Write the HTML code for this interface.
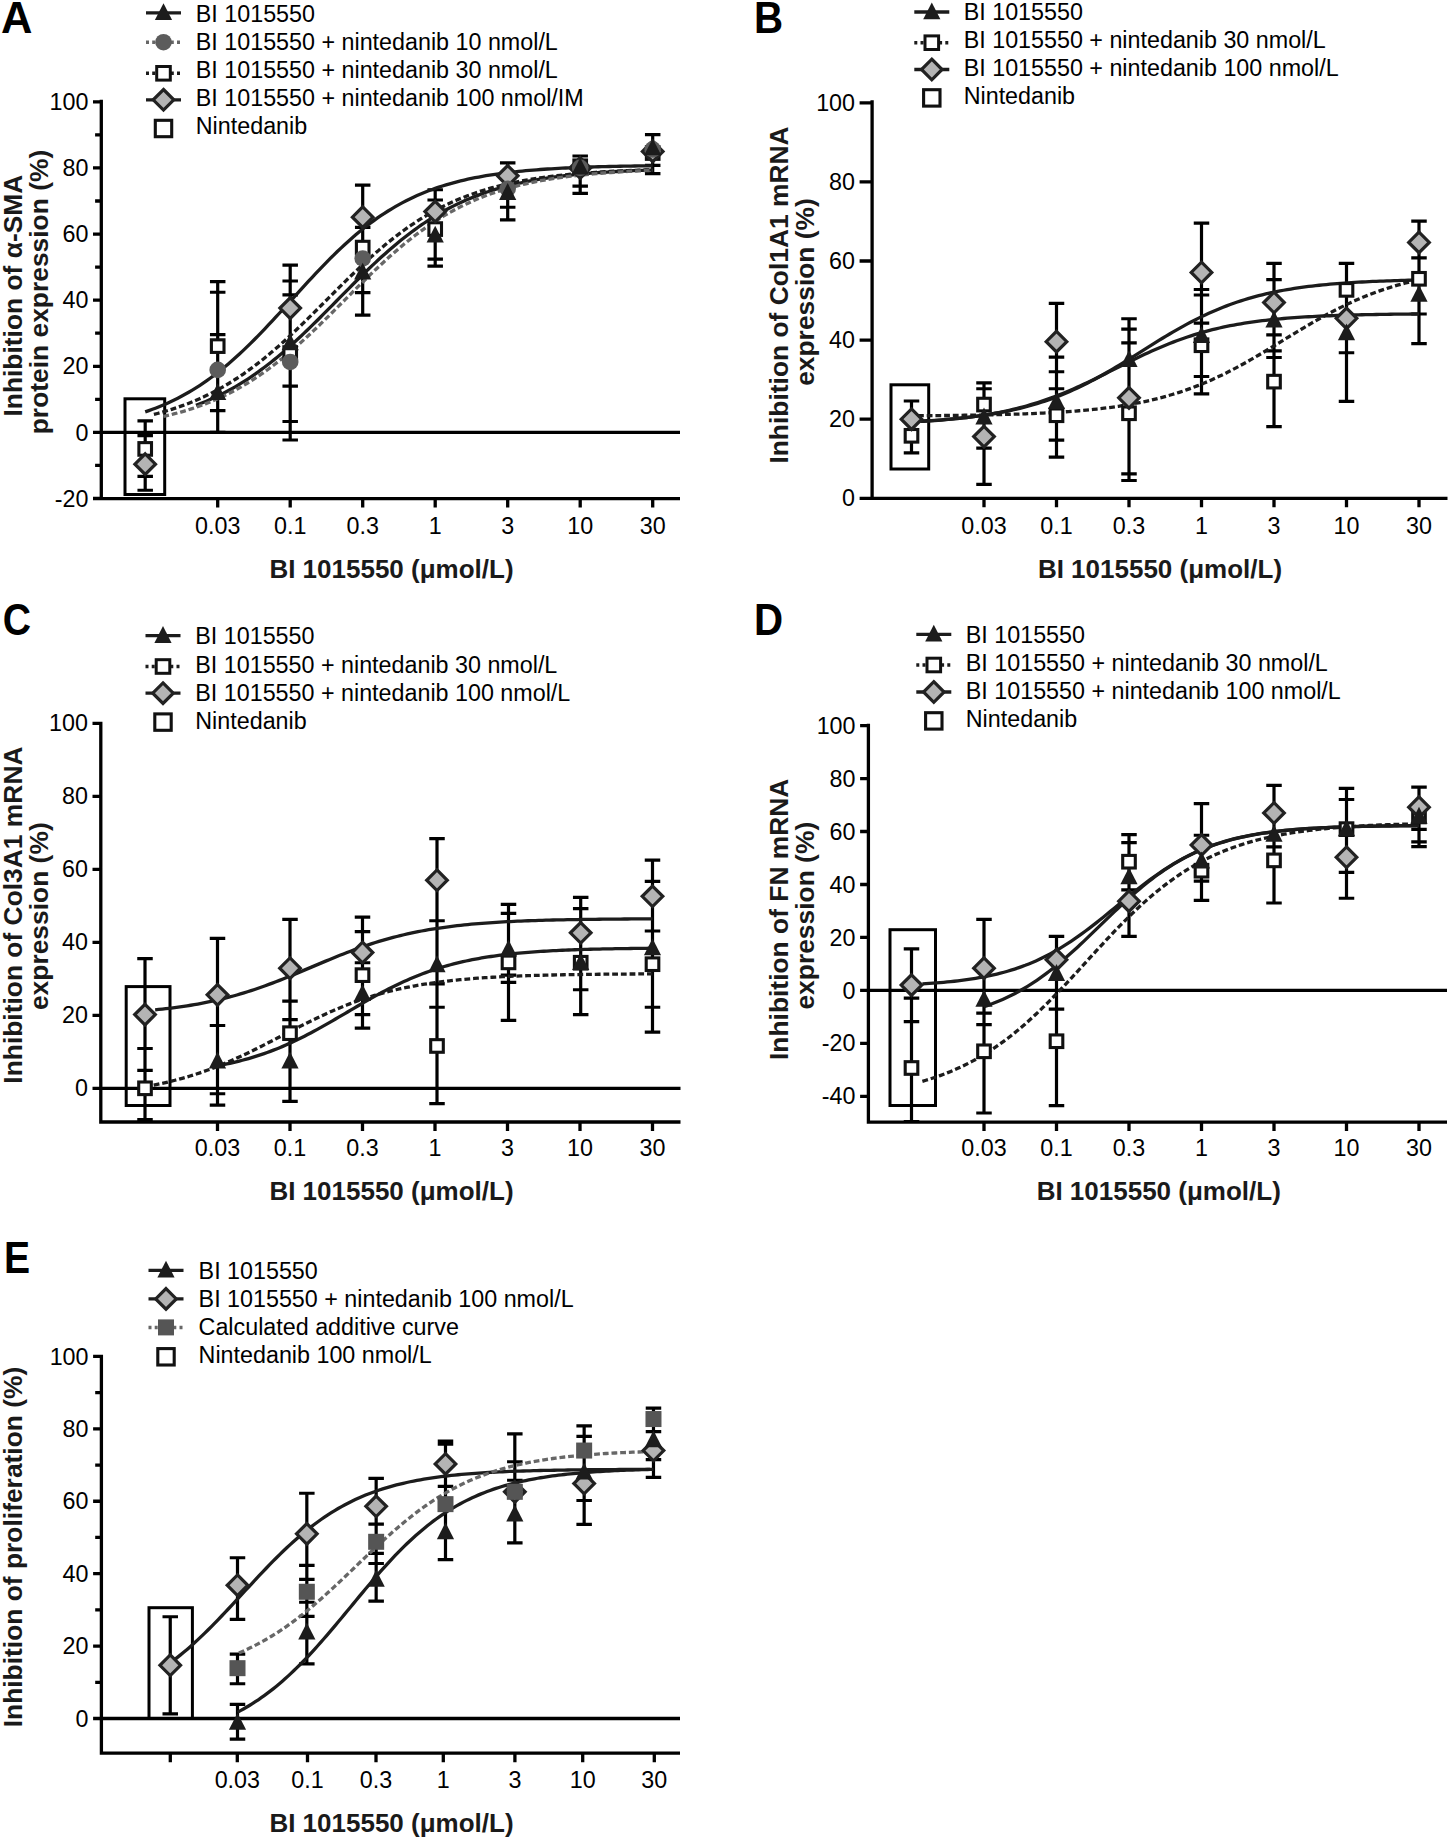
<!DOCTYPE html>
<html><head><meta charset="utf-8"><style>
html,body{margin:0;padding:0;background:#fff;}
body{width:1450px;height:1840px;overflow:hidden;}
svg{display:block;}
.t{font-family:"Liberation Sans", sans-serif;font-size:23.3px;fill:#000;}
.b{font-family:"Liberation Sans", sans-serif;font-size:26px;font-weight:bold;fill:#1a1a1a;}
.yl{font-size:26.4px;}
.L{font-family:"Liberation Sans", sans-serif;font-size:43.5px;font-weight:bold;fill:#000;}
</style></head><body>
<svg width="1450" height="1840" viewBox="0 0 1450 1840">
<path d="M101.3 99.85V500.25M99.65 498.6H680M93 101.8H101.3M93 167.92H101.3M93 234.04H101.3M93 300.16H101.3M93 366.28H101.3M93 432.4H101.3M93 498.52H101.3M95.1 134.86H101.3M95.1 200.98H101.3M95.1 267.1H101.3M95.1 333.22H101.3M95.1 399.34H101.3M95.1 465.46H101.3M217.7 498.6V507.6M290.2 498.6V507.6M362.7 498.6V507.6M435.2 498.6V507.6M507.7 498.6V507.6M580.2 498.6V507.6M652.7 498.6V507.6M101.3 432.4H680" stroke="#000" stroke-width="3.3" fill="none"/>
<text x="88.4" y="109.9" text-anchor="end" class="t">100</text>
<text x="88.4" y="176.02" text-anchor="end" class="t">80</text>
<text x="88.4" y="242.14" text-anchor="end" class="t">60</text>
<text x="88.4" y="308.26" text-anchor="end" class="t">40</text>
<text x="88.4" y="374.38" text-anchor="end" class="t">20</text>
<text x="88.4" y="440.5" text-anchor="end" class="t">0</text>
<text x="88.4" y="506.62" text-anchor="end" class="t">-20</text>
<text x="217.7" y="533.8" text-anchor="middle" class="t">0.03</text>
<text x="290.2" y="533.8" text-anchor="middle" class="t">0.1</text>
<text x="362.7" y="533.8" text-anchor="middle" class="t">0.3</text>
<text x="435.2" y="533.8" text-anchor="middle" class="t">1</text>
<text x="507.7" y="533.8" text-anchor="middle" class="t">3</text>
<text x="580.2" y="533.8" text-anchor="middle" class="t">10</text>
<text x="652.7" y="533.8" text-anchor="middle" class="t">30</text>
<rect x="125" y="398.8" width="39.7" height="95.7" fill="none" stroke="#000" stroke-width="3"/>
<path d="M145.2 420.83V490.25M137.45 420.83H152.95M137.45 435.71H152.95M137.45 476.37H152.95M137.45 490.25H152.95" stroke="#000" stroke-width="3.2" fill="none"/>
<path d="M217.7 281.65V432.4M209.95 281.65H225.45M209.95 292.23H225.45M209.95 334.54H225.45M209.95 410.58H225.45M209.95 432.4H225.45" stroke="#000" stroke-width="3.2" fill="none"/>
<path d="M290.2 265.12V440M282.45 265.12H297.95M282.45 280.99H297.95M282.45 294.87H297.95M282.45 386.12H297.95M282.45 421.49H297.95M282.45 440H297.95" stroke="#000" stroke-width="3.2" fill="none"/>
<path d="M362.7 185.11V315.04M354.95 185.11H370.45M354.95 227.43H370.45M354.95 292.56H370.45M354.95 315.04H370.45" stroke="#000" stroke-width="3.2" fill="none"/>
<path d="M435.2 189.74V266.11M427.45 189.74H442.95M427.45 199.99H442.95M427.45 259.17H442.95M427.45 266.11H442.95" stroke="#000" stroke-width="3.2" fill="none"/>
<path d="M507.7 162.96V219.82M499.95 162.96H515.45M499.95 207.26H515.45M499.95 219.82H515.45" stroke="#000" stroke-width="3.2" fill="none"/>
<path d="M580.2 156.02V193.38M572.45 156.02H587.95M572.45 186.1H587.95M572.45 193.38H587.95" stroke="#000" stroke-width="3.2" fill="none"/>
<path d="M652.7 134.53V173.54M644.95 134.53H660.45M644.95 165.28H660.45M644.95 173.54H660.45" stroke="#000" stroke-width="3.2" fill="none"/>
<polyline points="145.2,411.88 148.82,410.63 152.45,409.32 156.07,407.95 159.7,406.5 163.32,404.99 166.95,403.4 170.57,401.74 174.2,400.01 177.82,398.19 181.45,396.3 185.07,394.32 188.7,392.26 192.32,390.11 195.95,387.87 199.57,385.55 203.2,383.13 206.82,380.62 210.45,378.03 214.07,375.34 217.7,372.56 221.32,369.69 224.95,366.73 228.57,363.68 232.2,360.54 235.82,357.32 239.45,354.01 243.07,350.62 246.7,347.16 250.32,343.62 253.95,340.02 257.57,336.35 261.2,332.61 264.82,328.83 268.45,324.99 272.07,321.12 275.7,317.2 279.32,313.25 282.95,309.29 286.57,305.3 290.2,301.3 293.82,297.3 297.45,293.31 301.07,289.32 304.7,285.36 308.32,281.42 311.95,277.51 315.57,273.64 319.2,269.81 322.82,266.03 326.45,262.31 330.07,258.65 333.7,255.05 337.32,251.53 340.95,248.07 344.57,244.7 348.2,241.41 351.82,238.2 355.45,235.08 359.07,232.04 362.7,229.09 366.32,226.24 369.95,223.47 373.57,220.8 377.2,218.21 380.82,215.72 384.45,213.32 388.07,211.01 391.7,208.79 395.32,206.65 398.95,204.6 402.57,202.64 406.2,200.76 409.82,198.95 413.45,197.23 417.07,195.58 420.7,194.01 424.32,192.51 427.95,191.07 431.57,189.71 435.2,188.41 438.82,187.17 442.45,185.99 446.08,184.87 449.7,183.8 453.32,182.79 456.95,181.83 460.57,180.92 464.2,180.05 467.82,179.23 471.45,178.45 475.07,177.71 478.7,177.01 482.32,176.35 485.95,175.72 489.57,175.12 493.2,174.56 496.82,174.03 500.45,173.52 504.07,173.05 507.7,172.6 511.32,172.17 514.95,171.77 518.58,171.39 522.2,171.03 525.83,170.69 529.45,170.37 533.08,170.06 536.7,169.78 540.33,169.51 543.95,169.25 547.58,169.01 551.2,168.78 554.83,168.57 558.45,168.37 562.08,168.17 565.7,167.99 569.33,167.82 572.95,167.66 576.58,167.51 580.2,167.37 583.83,167.23 587.45,167.11 591.08,166.99 594.7,166.87 598.33,166.77 601.95,166.67 605.58,166.57 609.2,166.48 612.83,166.4 616.45,166.32 620.08,166.24 623.7,166.17 627.33,166.1 630.95,166.04 634.58,165.98 638.2,165.93 641.83,165.87 645.45,165.82 649.08,165.78 652.7,165.73" fill="none" stroke="#1c1c1c" stroke-width="3.3"/>
<polyline points="195.95,405.31 199.21,404.06 202.47,402.77 205.74,401.43 209,400.03 212.26,398.58 215.52,397.08 218.79,395.51 222.05,393.9 225.31,392.22 228.57,390.48 231.84,388.69 235.1,386.83 238.36,384.91 241.62,382.92 244.89,380.88 248.15,378.77 251.41,376.59 254.67,374.36 257.94,372.06 261.2,369.69 264.46,367.26 267.72,364.77 270.99,362.22 274.25,359.61 277.51,356.94 280.77,354.21 284.04,351.42 287.3,348.58 290.56,345.69 293.82,342.74 297.09,339.75 300.35,336.72 303.61,333.64 306.88,330.52 310.14,327.36 313.4,324.18 316.66,320.96 319.92,317.72 323.19,314.45 326.45,311.17 329.71,307.88 332.97,304.57 336.24,301.26 339.5,297.95 342.76,294.64 346.02,291.34 349.29,288.05 352.55,284.78 355.81,281.52 359.07,278.29 362.34,275.08 365.6,271.9 368.86,268.76 372.12,265.65 375.39,262.59 378.65,259.57 381.91,256.59 385.17,253.66 388.44,250.79 391.7,247.96 394.96,245.19 398.22,242.48 401.49,239.83 404.75,237.24 408.01,234.71 411.27,232.24 414.54,229.83 417.8,227.49 421.06,225.21 424.32,222.99 427.59,220.84 430.85,218.75 434.11,216.73 437.38,214.77 440.64,212.87 443.9,211.03 447.16,209.25 450.42,207.54 453.69,205.88 456.95,204.28 460.21,202.74 463.48,201.25 466.74,199.82 470,198.44 473.26,197.11 476.52,195.84 479.79,194.61 483.05,193.43 486.31,192.3 489.57,191.22 492.84,190.17 496.1,189.17 499.36,188.21 502.62,187.3 505.89,186.42 509.15,185.57 512.41,184.77 515.67,183.99 518.94,183.25 522.2,182.54 525.46,181.87 528.72,181.22 531.99,180.6 535.25,180.01 538.51,179.45 541.77,178.91 545.04,178.39 548.3,177.9 551.56,177.43 554.83,176.98 558.09,176.55 561.35,176.14 564.61,175.75 567.88,175.38 571.14,175.03 574.4,174.69 577.66,174.37 580.92,174.06 584.19,173.77 587.45,173.49 590.71,173.22 593.98,172.97 597.24,172.72 600.5,172.49 603.76,172.27 607.02,172.06 610.29,171.86 613.55,171.67 616.81,171.49 620.08,171.32 623.34,171.16 626.6,171 629.86,170.85 633.12,170.71 636.39,170.58 639.65,170.45 642.91,170.32 646.17,170.21 649.44,170.1 652.7,169.99" fill="none" stroke="#1c1c1c" stroke-width="3.3"/>
<polyline points="153.9,414.42 157.46,413.49 161.03,412.52 164.59,411.5 168.15,410.44 171.71,409.32 175.28,408.16 178.84,406.94 182.4,405.67 185.97,404.35 189.53,402.96 193.09,401.52 196.65,400.01 200.22,398.44 203.78,396.81 207.34,395.11 210.91,393.35 214.47,391.51 218.03,389.61 221.59,387.64 225.16,385.59 228.72,383.47 232.28,381.28 235.85,379.01 239.41,376.67 242.97,374.26 246.53,371.77 250.1,369.2 253.66,366.57 257.22,363.86 260.79,361.08 264.35,358.23 267.91,355.31 271.47,352.32 275.04,349.27 278.6,346.16 282.16,342.99 285.73,339.76 289.29,336.48 292.85,333.15 296.41,329.78 299.98,326.37 303.54,322.91 307.1,319.43 310.67,315.92 314.23,312.39 317.79,308.83 321.35,305.27 324.92,301.7 328.48,298.12 332.04,294.55 335.61,290.99 339.17,287.44 342.73,283.91 346.29,280.4 349.86,276.92 353.42,273.48 356.98,270.07 360.55,266.7 364.11,263.38 367.67,260.1 371.23,256.88 374.8,253.72 378.36,250.62 381.92,247.58 385.49,244.6 389.05,241.69 392.61,238.85 396.17,236.08 399.74,233.38 403.3,230.75 406.86,228.2 410.43,225.72 413.99,223.32 417.55,220.99 421.11,218.73 424.68,216.55 428.24,214.44 431.8,212.4 435.37,210.44 438.93,208.55 442.49,206.72 446.05,204.97 449.62,203.28 453.18,201.65 456.74,200.1 460.31,198.6 463.87,197.16 467.43,195.79 470.99,194.47 474.56,193.2 478.12,191.99 481.68,190.84 485.25,189.73 488.81,188.67 492.37,187.66 495.93,186.7 499.5,185.78 503.06,184.9 506.62,184.06 510.19,183.26 513.75,182.5 517.31,181.77 520.87,181.08 524.44,180.42 528,179.79 531.56,179.19 535.13,178.62 538.69,178.08 542.25,177.56 545.81,177.07 549.38,176.61 552.94,176.17 556.5,175.74 560.07,175.34 563.63,174.96 567.19,174.6 570.75,174.26 574.32,173.93 577.88,173.62 581.44,173.33 585.01,173.05 588.57,172.79 592.13,172.53 595.69,172.3 599.26,172.07 602.82,171.85 606.38,171.65 609.95,171.46 613.51,171.27 617.07,171.1 620.63,170.93 624.2,170.78 627.76,170.63 631.32,170.49 634.89,170.35 638.45,170.23 642.01,170.11 645.57,169.99 649.14,169.88 652.7,169.78" fill="none" stroke="#1c1c1c" stroke-width="3.3" stroke-dasharray="5.8 2.9"/>
<polyline points="163.32,416.51 166.82,415.7 170.32,414.85 173.81,413.96 177.31,413.03 180.8,412.05 184.3,411.04 187.79,409.97 191.29,408.86 194.78,407.69 198.28,406.48 201.78,405.21 205.27,403.89 208.77,402.52 212.26,401.08 215.76,399.59 219.25,398.03 222.75,396.41 226.24,394.73 229.74,392.99 233.24,391.18 236.73,389.3 240.23,387.35 243.72,385.33 247.22,383.24 250.71,381.09 254.21,378.86 257.7,376.56 261.2,374.18 264.7,371.74 268.19,369.23 271.69,366.64 275.18,363.99 278.68,361.26 282.17,358.47 285.67,355.61 289.16,352.69 292.66,349.71 296.16,346.66 299.65,343.56 303.15,340.4 306.64,337.2 310.14,333.94 313.63,330.64 317.13,327.3 320.62,323.93 324.12,320.52 327.62,317.08 331.11,313.62 334.61,310.14 338.1,306.65 341.6,303.15 345.09,299.64 348.59,296.14 352.08,292.64 355.58,289.15 359.07,285.67 362.57,282.22 366.07,278.79 369.56,275.39 373.06,272.02 376.55,268.69 380.05,265.41 383.54,262.17 387.04,258.97 390.53,255.83 394.03,252.75 397.53,249.72 401.02,246.76 404.52,243.85 408.01,241.02 411.51,238.24 415,235.54 418.5,232.91 421.99,230.34 425.49,227.85 428.99,225.43 432.48,223.07 435.98,220.8 439.47,218.59 442.97,216.45 446.46,214.38 449.96,212.39 453.45,210.46 456.95,208.6 460.45,206.81 463.94,205.08 467.44,203.42 470.93,201.82 474.43,200.28 477.92,198.81 481.42,197.39 484.91,196.03 488.41,194.72 491.91,193.47 495.4,192.28 498.9,191.13 502.39,190.03 505.89,188.98 509.38,187.97 512.88,187.01 516.37,186.09 519.87,185.22 523.37,184.38 526.86,183.58 530.36,182.82 533.85,182.09 537.35,181.39 540.84,180.73 544.34,180.1 547.83,179.5 551.33,178.92 554.83,178.38 558.32,177.86 561.82,177.36 565.31,176.89 568.81,176.44 572.3,176.02 575.8,175.61 579.29,175.22 582.79,174.86 586.28,174.51 589.78,174.18 593.28,173.86 596.77,173.56 600.27,173.27 603.76,173 607.26,172.75 610.75,172.5 614.25,172.27 617.74,172.05 621.24,171.84 624.74,171.64 628.23,171.45 631.73,171.27 635.22,171.1 638.72,170.93 642.21,170.78 645.71,170.63 649.2,170.5 652.7,170.36" fill="none" stroke="#676767" stroke-width="3.3" stroke-dasharray="5.8 2.9"/>
<rect x="138.9" y="442.63" width="12.6" height="12.6" fill="#fff" stroke="#111" stroke-width="3.1"/>
<path d="M145.2 453.84L155.5 464.14L145.2 474.44L134.9 464.14Z" fill="#b4b4b4" stroke="#222" stroke-width="3.2"/>
<rect x="211.4" y="339.81" width="12.6" height="12.6" fill="#fff" stroke="#111" stroke-width="3.1"/>
<circle cx="217.7" cy="369.92" r="8.3" fill="#5c5c5c"/>
<path d="M217.7 383.13L226.3 399.93L209.1 399.93Z" fill="#1c1c1c"/>
<rect x="283.9" y="346.76" width="12.6" height="12.6" fill="#fff" stroke="#111" stroke-width="3.1"/>
<path d="M290.2 297.79L300.5 308.09L290.2 318.39L279.9 308.09Z" fill="#b4b4b4" stroke="#222" stroke-width="3.2"/>
<circle cx="290.2" cy="361.98" r="8.3" fill="#5c5c5c"/>
<path d="M290.2 333.54L298.8 350.34L281.6 350.34Z" fill="#1c1c1c"/>
<rect x="356.4" y="241.29" width="12.6" height="12.6" fill="#fff" stroke="#111" stroke-width="3.1"/>
<path d="M362.7 206.88L373 217.18L362.7 227.48L352.4 217.18Z" fill="#b4b4b4" stroke="#222" stroke-width="3.2"/>
<circle cx="362.7" cy="258.5" r="8.3" fill="#5c5c5c"/>
<path d="M362.7 262.79L371.3 279.59L354.1 279.59Z" fill="#1c1c1c"/>
<rect x="428.9" y="222.78" width="12.6" height="12.6" fill="#fff" stroke="#111" stroke-width="3.1"/>
<path d="M435.2 201.26L445.5 211.56L435.2 221.86L424.9 211.56Z" fill="#b4b4b4" stroke="#222" stroke-width="3.2"/>
<path d="M435.2 225.76L443.8 242.56L426.6 242.56Z" fill="#1c1c1c"/>
<path d="M507.7 165.55L518 175.85L507.7 186.15L497.4 175.85Z" fill="#b4b4b4" stroke="#222" stroke-width="3.2"/>
<circle cx="507.7" cy="188.75" r="8.3" fill="#5c5c5c"/>
<path d="M507.7 183.11L516.3 199.91L499.1 199.91Z" fill="#1c1c1c"/>
<rect x="573.9" y="159.97" width="12.6" height="12.6" fill="#fff" stroke="#111" stroke-width="3.1"/>
<path d="M580.2 157.62L590.5 167.92L580.2 178.22L569.9 167.92Z" fill="#b4b4b4" stroke="#222" stroke-width="3.2"/>
<circle cx="580.2" cy="167.92" r="8.3" fill="#5c5c5c"/>
<path d="M580.2 157.66L588.8 174.46L571.6 174.46Z" fill="#1c1c1c"/>
<rect x="646.4" y="146.74" width="12.6" height="12.6" fill="#fff" stroke="#111" stroke-width="3.1"/>
<path d="M652.7 141.09L663 151.39L652.7 161.69L642.4 151.39Z" fill="#b4b4b4" stroke="#222" stroke-width="3.2"/>
<circle cx="652.7" cy="149.41" r="8.3" fill="#5c5c5c"/>
<path d="M652.7 138.48L661.3 155.28L644.1 155.28Z" fill="#1c1c1c"/>
<path d="M146 12.8H181" stroke="#1c1c1c" stroke-width="3.3"/>
<path d="M163.5 3.2L172.1 20L154.9 20Z" fill="#1c1c1c"/>
<text x="195.8" y="22.3" class="t">BI 1015550</text>
<path d="M146 42.2H181" stroke="#676767" stroke-width="3.5" stroke-dasharray="3 3.2"/>
<circle cx="163.5" cy="42.2" r="8.3" fill="#5c5c5c"/>
<text x="195.8" y="50.3" class="t">BI 1015550 + nintedanib 10 nmol/L</text>
<path d="M146 73.3H181" stroke="#1c1c1c" stroke-width="3.5" stroke-dasharray="3 3.2"/>
<rect x="156.7" y="66.5" width="13.6" height="13.6" fill="#fff" stroke="#111" stroke-width="3"/>
<text x="195.8" y="78.2" class="t">BI 1015550 + nintedanib 30 nmol/L</text>
<path d="M146 99.8H181" stroke="#1c1c1c" stroke-width="3.3"/>
<path d="M163.5 89.5L173.8 99.8L163.5 110.1L153.2 99.8Z" fill="#b4b4b4" stroke="#222" stroke-width="3.2"/>
<text x="195.8" y="106" class="t">BI 1015550 + nintedanib 100 nmol/IM</text>
<rect x="155.3" y="120.3" width="16.4" height="16.4" fill="#fff" stroke="#111" stroke-width="3.1"/>
<text x="195.8" y="134.1" class="t">Nintedanib</text>
<text transform="translate(21.5 295.6) rotate(-90)" text-anchor="middle" class="b yl">Inhibition of α-SMA</text>
<text transform="translate(47.5 292) rotate(-90)" text-anchor="middle" class="b yl">protein expression (%)</text>
<text x="391.5" y="578" text-anchor="middle" class="b">BI 1015550 (μmol/L)</text>
<text transform="translate(1 32.5) scale(1.0 1)" class="L">A</text>
<path d="M872.1 100.35V499.95M870.45 498.3H1447.5M859.6 102.8H872.1M859.6 181.9H872.1M859.6 261H872.1M859.6 340.1H872.1M859.6 419.2H872.1M859.6 498.3H872.1M984 498.3V507.3M1056.5 498.3V507.3M1129 498.3V507.3M1201.5 498.3V507.3M1274 498.3V507.3M1346.5 498.3V507.3M1419 498.3V507.3" stroke="#000" stroke-width="3.3" fill="none"/>
<text x="855" y="110.9" text-anchor="end" class="t">100</text>
<text x="855" y="190" text-anchor="end" class="t">80</text>
<text x="855" y="269.1" text-anchor="end" class="t">60</text>
<text x="855" y="348.2" text-anchor="end" class="t">40</text>
<text x="855" y="427.3" text-anchor="end" class="t">20</text>
<text x="855" y="506.4" text-anchor="end" class="t">0</text>
<text x="984" y="533.8" text-anchor="middle" class="t">0.03</text>
<text x="1056.5" y="533.8" text-anchor="middle" class="t">0.1</text>
<text x="1129" y="533.8" text-anchor="middle" class="t">0.3</text>
<text x="1201.5" y="533.8" text-anchor="middle" class="t">1</text>
<text x="1274" y="533.8" text-anchor="middle" class="t">3</text>
<text x="1346.5" y="533.8" text-anchor="middle" class="t">10</text>
<text x="1419" y="533.8" text-anchor="middle" class="t">30</text>
<rect x="891" y="384.8" width="37.7" height="84.2" fill="none" stroke="#000" stroke-width="3"/>
<path d="M911.5 401.01V452.82M903.75 401.01H919.25M903.75 452.82H919.25" stroke="#000" stroke-width="3.2" fill="none"/>
<path d="M984 382.81V484.46M976.25 382.81H991.75M976.25 388.75H991.75M976.25 448.07H991.75M976.25 484.46H991.75" stroke="#000" stroke-width="3.2" fill="none"/>
<path d="M1056.5 303.32V457.17M1048.75 303.32H1064.25M1048.75 357.11H1064.25M1048.75 371.74H1064.25M1048.75 388.75H1064.25M1048.75 440.16H1064.25M1048.75 457.17H1064.25" stroke="#000" stroke-width="3.2" fill="none"/>
<path d="M1129 318.74V480.5M1121.25 318.74H1136.75M1121.25 329.03H1136.75M1121.25 342.87H1136.75M1121.25 473.78H1136.75M1121.25 480.5H1136.75" stroke="#000" stroke-width="3.2" fill="none"/>
<path d="M1201.5 223.03V393.89M1193.75 223.03H1209.25M1193.75 289.48H1209.25M1193.75 295.01H1209.25M1193.75 323.09H1209.25M1193.75 376.49H1209.25M1193.75 393.89H1209.25" stroke="#000" stroke-width="3.2" fill="none"/>
<path d="M1274 263.37V426.71M1266.25 263.37H1281.75M1266.25 279.59H1281.75M1266.25 334.96H1281.75M1266.25 350.78H1281.75M1266.25 357.5H1281.75M1266.25 426.71H1281.75" stroke="#000" stroke-width="3.2" fill="none"/>
<path d="M1346.5 263.37V401.4M1338.75 263.37H1354.25M1338.75 352.76H1354.25M1338.75 401.4H1354.25" stroke="#000" stroke-width="3.2" fill="none"/>
<path d="M1419 221.05V343.66M1411.25 221.05H1426.75M1411.25 257.84H1426.75M1411.25 314H1426.75M1411.25 343.66H1426.75" stroke="#000" stroke-width="3.2" fill="none"/>
<polyline points="920.2,421.15 923.76,420.95 927.33,420.75 930.89,420.53 934.45,420.3 938.01,420.05 941.58,419.79 945.14,419.52 948.7,419.23 952.27,418.92 955.83,418.59 959.39,418.25 962.95,417.88 966.52,417.5 970.08,417.09 973.64,416.65 977.21,416.2 980.77,415.71 984.33,415.21 987.89,414.67 991.46,414.1 995.02,413.5 998.58,412.87 1002.15,412.21 1005.71,411.51 1009.27,410.77 1012.83,410 1016.4,409.19 1019.96,408.33 1023.52,407.44 1027.09,406.5 1030.65,405.52 1034.21,404.49 1037.77,403.41 1041.34,402.29 1044.9,401.11 1048.46,399.89 1052.03,398.61 1055.59,397.28 1059.15,395.9 1062.71,394.47 1066.28,392.98 1069.84,391.44 1073.4,389.85 1076.97,388.21 1080.53,386.51 1084.09,384.76 1087.65,382.96 1091.22,381.12 1094.78,379.22 1098.34,377.29 1101.91,375.31 1105.47,373.28 1109.03,371.23 1112.59,369.13 1116.16,367.01 1119.72,364.86 1123.28,362.68 1126.85,360.48 1130.41,358.27 1133.97,356.04 1137.53,353.81 1141.1,351.57 1144.66,349.33 1148.22,347.09 1151.79,344.86 1155.35,342.65 1158.91,340.45 1162.47,338.28 1166.04,336.12 1169.6,334 1173.16,331.91 1176.73,329.85 1180.29,327.83 1183.85,325.84 1187.41,323.91 1190.98,322.01 1194.54,320.17 1198.1,318.37 1201.67,316.62 1205.23,314.92 1208.79,313.28 1212.35,311.69 1215.92,310.15 1219.48,308.66 1223.04,307.23 1226.61,305.84 1230.17,304.52 1233.73,303.24 1237.29,302.01 1240.86,300.84 1244.42,299.71 1247.98,298.64 1251.55,297.61 1255.11,296.62 1258.67,295.69 1262.23,294.79 1265.8,293.94 1269.36,293.12 1272.92,292.35 1276.49,291.61 1280.05,290.92 1283.61,290.25 1287.17,289.62 1290.74,289.02 1294.3,288.45 1297.86,287.92 1301.43,287.41 1304.99,286.92 1308.55,286.47 1312.11,286.04 1315.68,285.63 1319.24,285.24 1322.8,284.87 1326.37,284.53 1329.93,284.2 1333.49,283.89 1337.05,283.6 1340.62,283.33 1344.18,283.07 1347.74,282.82 1351.31,282.59 1354.87,282.37 1358.43,282.17 1361.99,281.98 1365.56,281.79 1369.12,281.62 1372.68,281.46 1376.25,281.31 1379.81,281.16 1383.37,281.03 1386.93,280.9 1390.5,280.78 1394.06,280.66 1397.62,280.56 1401.19,280.46 1404.75,280.36 1408.31,280.27 1411.87,280.19 1415.44,280.11 1419,280.04" fill="none" stroke="#1c1c1c" stroke-width="3.3"/>
<polyline points="920.2,421.47 923.76,421.26 927.33,421.04 930.89,420.81 934.45,420.56 938.01,420.3 941.58,420.02 945.14,419.72 948.7,419.41 952.27,419.08 955.83,418.72 959.39,418.35 962.95,417.96 966.52,417.54 970.08,417.09 973.64,416.63 977.21,416.13 980.77,415.61 984.33,415.06 987.89,414.47 991.46,413.86 995.02,413.22 998.58,412.54 1002.15,411.82 1005.71,411.07 1009.27,410.28 1012.83,409.45 1016.4,408.59 1019.96,407.68 1023.52,406.73 1027.09,405.74 1030.65,404.7 1034.21,403.63 1037.77,402.5 1041.34,401.34 1044.9,400.13 1048.46,398.87 1052.03,397.57 1055.59,396.23 1059.15,394.84 1062.71,393.41 1066.28,391.95 1069.84,390.44 1073.4,388.89 1076.97,387.31 1080.53,385.69 1084.09,384.05 1087.65,382.37 1091.22,380.67 1094.78,378.94 1098.34,377.2 1101.91,375.44 1105.47,373.66 1109.03,371.88 1112.59,370.09 1116.16,368.3 1119.72,366.51 1123.28,364.72 1126.85,362.95 1130.41,361.18 1133.97,359.44 1137.53,357.71 1141.1,356.01 1144.66,354.33 1148.22,352.68 1151.79,351.06 1155.35,349.47 1158.91,347.92 1162.47,346.41 1166.04,344.93 1169.6,343.5 1173.16,342.11 1176.73,340.76 1180.29,339.46 1183.85,338.2 1187.41,336.98 1190.98,335.81 1194.54,334.68 1198.1,333.6 1201.67,332.56 1205.23,331.57 1208.79,330.61 1212.35,329.7 1215.92,328.83 1219.48,328 1223.04,327.2 1226.61,326.45 1230.17,325.73 1233.73,325.05 1237.29,324.4 1240.86,323.78 1244.42,323.19 1247.98,322.64 1251.55,322.11 1255.11,321.62 1258.67,321.15 1262.23,320.7 1265.8,320.28 1269.36,319.88 1272.92,319.5 1276.49,319.15 1280.05,318.81 1283.61,318.5 1287.17,318.2 1290.74,317.92 1294.3,317.65 1297.86,317.4 1301.43,317.17 1304.99,316.95 1308.55,316.74 1312.11,316.54 1315.68,316.36 1319.24,316.19 1322.8,316.02 1326.37,315.87 1329.93,315.73 1333.49,315.59 1337.05,315.46 1340.62,315.34 1344.18,315.23 1347.74,315.13 1351.31,315.03 1354.87,314.93 1358.43,314.85 1361.99,314.76 1365.56,314.69 1369.12,314.61 1372.68,314.55 1376.25,314.48 1379.81,314.42 1383.37,314.37 1386.93,314.31 1390.5,314.26 1394.06,314.22 1397.62,314.17 1401.19,314.13 1404.75,314.09 1408.31,314.06 1411.87,314.02 1415.44,313.99 1419,313.96" fill="none" stroke="#1c1c1c" stroke-width="3.3"/>
<polyline points="918.02,415.72 921.6,415.7 925.18,415.67 928.76,415.65 932.34,415.62 935.92,415.59 939.5,415.55 943.07,415.52 946.65,415.48 950.23,415.44 953.81,415.4 957.39,415.36 960.97,415.31 964.54,415.26 968.12,415.21 971.7,415.16 975.28,415.1 978.86,415.04 982.44,414.97 986.01,414.9 989.59,414.83 993.17,414.75 996.75,414.67 1000.33,414.59 1003.91,414.5 1007.48,414.4 1011.06,414.3 1014.64,414.19 1018.22,414.07 1021.8,413.95 1025.38,413.83 1028.96,413.69 1032.53,413.55 1036.11,413.39 1039.69,413.23 1043.27,413.07 1046.85,412.89 1050.43,412.7 1054,412.5 1057.58,412.29 1061.16,412.06 1064.74,411.83 1068.32,411.58 1071.9,411.31 1075.47,411.04 1079.05,410.74 1082.63,410.43 1086.21,410.11 1089.79,409.76 1093.37,409.4 1096.94,409.02 1100.52,408.62 1104.1,408.19 1107.68,407.74 1111.26,407.27 1114.84,406.78 1118.41,406.26 1121.99,405.71 1125.57,405.13 1129.15,404.53 1132.73,403.89 1136.31,403.22 1139.89,402.52 1143.46,401.79 1147.04,401.02 1150.62,400.21 1154.2,399.37 1157.78,398.48 1161.36,397.56 1164.93,396.6 1168.51,395.59 1172.09,394.54 1175.67,393.45 1179.25,392.31 1182.83,391.12 1186.4,389.89 1189.98,388.61 1193.56,387.28 1197.14,385.9 1200.72,384.48 1204.3,383 1207.87,381.48 1211.45,379.91 1215.03,378.29 1218.61,376.62 1222.19,374.91 1225.77,373.15 1229.35,371.34 1232.92,369.49 1236.5,367.6 1240.08,365.67 1243.66,363.71 1247.24,361.71 1250.82,359.67 1254.39,357.61 1257.97,355.51 1261.55,353.4 1265.13,351.26 1268.71,349.1 1272.29,346.93 1275.86,344.75 1279.44,342.56 1283.02,340.37 1286.6,338.18 1290.18,335.99 1293.76,333.81 1297.33,331.64 1300.91,329.48 1304.49,327.34 1308.07,325.23 1311.65,323.14 1315.23,321.07 1318.81,319.04 1322.38,317.04 1325.96,315.07 1329.54,313.14 1333.12,311.25 1336.7,309.4 1340.28,307.6 1343.85,305.84 1347.43,304.13 1351.01,302.46 1354.59,300.84 1358.17,299.27 1361.75,297.75 1365.32,296.28 1368.9,294.85 1372.48,293.48 1376.06,292.15 1379.64,290.87 1383.22,289.64 1386.79,288.45 1390.37,287.31 1393.95,286.22 1397.53,285.17 1401.11,284.16 1404.69,283.2 1408.26,282.28 1411.84,281.4 1415.42,280.55 1419,279.75" fill="none" stroke="#1c1c1c" stroke-width="3.3" stroke-dasharray="5.8 2.9"/>
<rect x="905.2" y="429.51" width="12.6" height="12.6" fill="#fff" stroke="#111" stroke-width="3.1"/>
<path d="M911.5 408.9L921.8 419.2L911.5 429.5L901.2 419.2Z" fill="#b4b4b4" stroke="#222" stroke-width="3.2"/>
<rect x="977.7" y="398.27" width="12.6" height="12.6" fill="#fff" stroke="#111" stroke-width="3.1"/>
<path d="M984 426.3L994.3 436.6L984 446.9L973.7 436.6Z" fill="#b4b4b4" stroke="#222" stroke-width="3.2"/>
<path d="M984 407.62L992.6 424.42L975.4 424.42Z" fill="#1c1c1c"/>
<rect x="1050.2" y="408.94" width="12.6" height="12.6" fill="#fff" stroke="#111" stroke-width="3.1"/>
<path d="M1056.5 331.38L1066.8 341.68L1056.5 351.98L1046.2 341.68Z" fill="#b4b4b4" stroke="#222" stroke-width="3.2"/>
<path d="M1056.5 392.2L1065.1 409L1047.9 409Z" fill="#1c1c1c"/>
<rect x="1122.7" y="406.97" width="12.6" height="12.6" fill="#fff" stroke="#111" stroke-width="3.1"/>
<path d="M1129 387.54L1139.3 397.84L1129 408.14L1118.7 397.84Z" fill="#b4b4b4" stroke="#222" stroke-width="3.2"/>
<path d="M1129 350.27L1137.6 367.07L1120.4 367.07Z" fill="#1c1c1c"/>
<rect x="1195.2" y="338.94" width="12.6" height="12.6" fill="#fff" stroke="#111" stroke-width="3.1"/>
<path d="M1201.5 262.17L1211.8 272.47L1201.5 282.77L1191.2 272.47Z" fill="#b4b4b4" stroke="#222" stroke-width="3.2"/>
<path d="M1201.5 326.15L1210.1 342.95L1192.9 342.95Z" fill="#1c1c1c"/>
<rect x="1267.7" y="375.33" width="12.6" height="12.6" fill="#fff" stroke="#111" stroke-width="3.1"/>
<path d="M1274 292.23L1284.3 302.53L1274 312.83L1263.7 302.53Z" fill="#b4b4b4" stroke="#222" stroke-width="3.2"/>
<path d="M1274 310.73L1282.6 327.53L1265.4 327.53Z" fill="#1c1c1c"/>
<rect x="1340.2" y="283.57" width="12.6" height="12.6" fill="#fff" stroke="#111" stroke-width="3.1"/>
<path d="M1346.5 308.05L1356.8 318.35L1346.5 328.65L1336.2 318.35Z" fill="#b4b4b4" stroke="#222" stroke-width="3.2"/>
<path d="M1346.5 323.38L1355.1 340.18L1337.9 340.18Z" fill="#1c1c1c"/>
<rect x="1412.7" y="272.5" width="12.6" height="12.6" fill="#fff" stroke="#111" stroke-width="3.1"/>
<path d="M1419 232.11L1429.3 242.41L1419 252.71L1408.7 242.41Z" fill="#b4b4b4" stroke="#222" stroke-width="3.2"/>
<path d="M1419 285.02L1427.6 301.82L1410.4 301.82Z" fill="#1c1c1c"/>
<path d="M914.3 12H949.3" stroke="#1c1c1c" stroke-width="3.3"/>
<path d="M931.8 2.4L940.4 19.2L923.2 19.2Z" fill="#1c1c1c"/>
<text x="963.7" y="20.3" class="t">BI 1015550</text>
<path d="M914.3 42.7H949.3" stroke="#1c1c1c" stroke-width="3.5" stroke-dasharray="3 3.2"/>
<rect x="925" y="35.9" width="13.6" height="13.6" fill="#fff" stroke="#111" stroke-width="3"/>
<text x="963.7" y="48.4" class="t">BI 1015550 + nintedanib 30 nmol/L</text>
<path d="M914.3 69.5H949.3" stroke="#1c1c1c" stroke-width="3.3"/>
<path d="M931.8 59.2L942.1 69.5L931.8 79.8L921.5 69.5Z" fill="#b4b4b4" stroke="#222" stroke-width="3.2"/>
<text x="963.7" y="76.2" class="t">BI 1015550 + nintedanib 100 nmol/L</text>
<rect x="923.6" y="89.7" width="16.4" height="16.4" fill="#fff" stroke="#111" stroke-width="3.1"/>
<text x="963.7" y="104.3" class="t">Nintedanib</text>
<text transform="translate(787.5 295) rotate(-90)" text-anchor="middle" class="b yl">Inhibition of Col1A1 mRNA</text>
<text transform="translate(813.5 292) rotate(-90)" text-anchor="middle" class="b yl">expression (%)</text>
<text x="1160" y="578" text-anchor="middle" class="b">BI 1015550 (μmol/L)</text>
<text transform="translate(754 32.5) scale(0.926 1)" class="L">B</text>
<path d="M100.8 721.65V1123.65M99.15 1122H680.5M92.5 723.3H100.8M92.5 796.3H100.8M92.5 869.3H100.8M92.5 942.3H100.8M92.5 1015.3H100.8M92.5 1088.3H100.8M217.5 1122V1131M290 1122V1131M362.5 1122V1131M435 1122V1131M507.5 1122V1131M580 1122V1131M652.5 1122V1131M100.8 1088.3H680.5" stroke="#000" stroke-width="3.3" fill="none"/>
<text x="87.9" y="731.4" text-anchor="end" class="t">100</text>
<text x="87.9" y="804.4" text-anchor="end" class="t">80</text>
<text x="87.9" y="877.4" text-anchor="end" class="t">60</text>
<text x="87.9" y="950.4" text-anchor="end" class="t">40</text>
<text x="87.9" y="1023.4" text-anchor="end" class="t">20</text>
<text x="87.9" y="1096.4" text-anchor="end" class="t">0</text>
<text x="217.5" y="1156" text-anchor="middle" class="t">0.03</text>
<text x="290" y="1156" text-anchor="middle" class="t">0.1</text>
<text x="362.5" y="1156" text-anchor="middle" class="t">0.3</text>
<text x="435" y="1156" text-anchor="middle" class="t">1</text>
<text x="507.5" y="1156" text-anchor="middle" class="t">3</text>
<text x="580" y="1156" text-anchor="middle" class="t">10</text>
<text x="652.5" y="1156" text-anchor="middle" class="t">30</text>
<rect x="126.2" y="986.6" width="43.8" height="118.9" fill="none" stroke="#000" stroke-width="3"/>
<path d="M145 958.72V1119.69M137.25 958.72H152.75M137.25 1048.51H152.75M137.25 1070.41H152.75M137.25 1119.69H152.75" stroke="#000" stroke-width="3.2" fill="none"/>
<path d="M217.5 938.28V1105.09M209.75 938.28H225.25M209.75 1025.52H225.25M209.75 1093.77H225.25M209.75 1105.09H225.25" stroke="#000" stroke-width="3.2" fill="none"/>
<path d="M290 919.3V1101.44M282.25 919.3H297.75M282.25 1001.06H297.75M282.25 1019.68H297.75M282.25 1101.44H297.75" stroke="#000" stroke-width="3.2" fill="none"/>
<path d="M362.5 917.12V1028.08M354.75 917.12H370.25M354.75 931.71H370.25M354.75 962.74H370.25M354.75 1014.57H370.25M354.75 1028.08H370.25" stroke="#000" stroke-width="3.2" fill="none"/>
<path d="M437 838.64V1103.63M429.25 838.64H444.75M429.25 920.76H444.75M429.25 983.91H444.75M429.25 1007.27H444.75M429.25 1103.63H444.75" stroke="#000" stroke-width="3.2" fill="none"/>
<path d="M508.5 904.34V1020.41M500.75 904.34H516.25M500.75 913.46H516.25M500.75 975.15H516.25M500.75 982.45H516.25M500.75 1020.41H516.25" stroke="#000" stroke-width="3.2" fill="none"/>
<path d="M580.7 897.4V1014.57M572.95 897.4H588.45M572.95 908.72H588.45M572.95 989.75H588.45M572.95 1014.57H588.45" stroke="#000" stroke-width="3.2" fill="none"/>
<path d="M652.5 860.17V1032.09M644.75 860.17H660.25M644.75 881.34H660.25M644.75 930.98H660.25M644.75 1007.27H660.25M644.75 1032.09H660.25" stroke="#000" stroke-width="3.2" fill="none"/>
<polyline points="155.15,1009.84 158.7,1009.48 162.25,1009.11 165.81,1008.71 169.36,1008.29 172.91,1007.84 176.47,1007.38 180.02,1006.89 183.57,1006.37 187.12,1005.83 190.68,1005.25 194.23,1004.66 197.78,1004.03 201.33,1003.37 204.88,1002.68 208.44,1001.96 211.99,1001.21 215.54,1000.42 219.09,999.6 222.65,998.74 226.2,997.85 229.75,996.93 233.31,995.97 236.86,994.97 240.41,993.93 243.96,992.87 247.52,991.76 251.07,990.62 254.62,989.45 258.17,988.24 261.73,987 265.28,985.73 268.83,984.42 272.38,983.09 275.94,981.73 279.49,980.35 283.04,978.94 286.59,977.52 290.14,976.07 293.7,974.6 297.25,973.13 300.8,971.64 304.36,970.14 307.91,968.64 311.46,967.13 315.01,965.63 318.56,964.13 322.12,962.63 325.67,961.14 329.22,959.67 332.78,958.21 336.33,956.76 339.88,955.33 343.43,953.93 346.99,952.55 350.54,951.19 354.09,949.87 357.64,948.57 361.2,947.3 364.75,946.06 368.3,944.86 371.85,943.69 375.4,942.55 378.96,941.45 382.51,940.39 386.06,939.36 389.62,938.37 393.17,937.41 396.72,936.49 400.27,935.6 403.83,934.75 407.38,933.93 410.93,933.15 414.48,932.4 418.04,931.68 421.59,931 425.14,930.34 428.69,929.72 432.25,929.13 435.8,928.56 439.35,928.02 442.9,927.51 446.45,927.02 450.01,926.55 453.56,926.11 457.11,925.7 460.67,925.3 464.22,924.92 467.77,924.57 471.32,924.23 474.88,923.91 478.43,923.61 481.98,923.32 485.53,923.05 489.08,922.8 492.64,922.56 496.19,922.33 499.74,922.11 503.3,921.91 506.85,921.72 510.4,921.54 513.95,921.37 517.5,921.2 521.06,921.05 524.61,920.91 528.16,920.77 531.72,920.65 535.27,920.53 538.82,920.41 542.37,920.31 545.92,920.21 549.48,920.11 553.03,920.02 556.58,919.94 560.13,919.86 563.69,919.79 567.24,919.72 570.79,919.65 574.35,919.59 577.9,919.53 581.45,919.47 585,919.42 588.56,919.37 592.11,919.33 595.66,919.29 599.21,919.25 602.76,919.21 606.32,919.17 609.87,919.14 613.42,919.11 616.97,919.08 620.53,919.05 624.08,919.02 627.63,919 631.18,918.97 634.74,918.95 638.29,918.93 641.84,918.91 645.39,918.89 648.95,918.88 652.5,918.86" fill="none" stroke="#1c1c1c" stroke-width="3.3"/>
<polyline points="217.5,1065.85 220.61,1065.26 223.71,1064.64 226.82,1063.99 229.93,1063.31 233.04,1062.6 236.14,1061.86 239.25,1061.08 242.36,1060.27 245.46,1059.43 248.57,1058.55 251.68,1057.63 254.79,1056.68 257.89,1055.69 261,1054.66 264.11,1053.59 267.21,1052.49 270.32,1051.34 273.43,1050.16 276.54,1048.93 279.64,1047.67 282.75,1046.36 285.86,1045.02 288.96,1043.63 292.07,1042.21 295.18,1040.75 298.29,1039.26 301.39,1037.73 304.5,1036.16 307.61,1034.56 310.71,1032.94 313.82,1031.28 316.93,1029.59 320.04,1027.88 323.14,1026.14 326.25,1024.39 329.36,1022.61 332.46,1020.82 335.57,1019.02 338.68,1017.2 341.79,1015.38 344.89,1013.55 348,1011.72 351.11,1009.9 354.21,1008.07 357.32,1006.26 360.43,1004.45 363.54,1002.66 366.64,1000.88 369.75,999.12 372.86,997.37 375.96,995.66 379.07,993.96 382.18,992.3 385.29,990.66 388.39,989.05 391.5,987.48 394.61,985.94 397.71,984.44 400.82,982.97 403.93,981.54 407.04,980.14 410.14,978.79 413.25,977.48 416.36,976.2 419.46,974.97 422.57,973.77 425.68,972.61 428.79,971.5 431.89,970.42 435,969.38 438.11,968.38 441.21,967.42 444.32,966.5 447.43,965.61 450.54,964.75 453.64,963.94 456.75,963.15 459.86,962.4 462.96,961.68 466.07,960.99 469.18,960.34 472.29,959.71 475.39,959.11 478.5,958.54 481.61,957.99 484.71,957.47 487.82,956.97 490.93,956.5 494.04,956.05 497.14,955.62 500.25,955.21 503.36,954.83 506.46,954.46 509.57,954.11 512.68,953.77 515.79,953.46 518.89,953.16 522,952.87 525.11,952.6 528.21,952.34 531.32,952.1 534.43,951.87 537.54,951.65 540.64,951.44 543.75,951.24 546.86,951.06 549.96,950.88 553.07,950.71 556.18,950.55 559.29,950.4 562.39,950.26 565.5,950.12 568.61,949.99 571.71,949.87 574.82,949.76 577.93,949.65 581.04,949.55 584.14,949.45 587.25,949.36 590.36,949.27 593.46,949.19 596.57,949.11 599.68,949.04 602.79,948.97 605.89,948.9 609,948.84 612.11,948.78 615.21,948.72 618.32,948.67 621.43,948.62 624.54,948.57 627.64,948.53 630.75,948.48 633.86,948.44 636.96,948.41 640.07,948.37 643.18,948.34 646.29,948.31 649.39,948.27 652.5,948.25" fill="none" stroke="#1c1c1c" stroke-width="3.3"/>
<polyline points="153.7,1085.12 157.26,1084.4 160.83,1083.64 164.39,1082.85 167.95,1082.02 171.51,1081.15 175.08,1080.25 178.64,1079.31 182.2,1078.33 185.77,1077.31 189.33,1076.24 192.89,1075.14 196.45,1073.99 200.02,1072.81 203.58,1071.58 207.14,1070.3 210.71,1068.99 214.27,1067.63 217.83,1066.23 221.39,1064.8 224.96,1063.32 228.52,1061.8 232.08,1060.25 235.65,1058.66 239.21,1057.03 242.77,1055.37 246.33,1053.68 249.9,1051.97 253.46,1050.22 257.02,1048.46 260.59,1046.67 264.15,1044.86 267.71,1043.04 271.27,1041.21 274.84,1039.37 278.4,1037.52 281.96,1035.67 285.53,1033.82 289.09,1031.97 292.65,1030.13 296.21,1028.3 299.78,1026.49 303.34,1024.69 306.9,1022.91 310.47,1021.15 314.03,1019.42 317.59,1017.72 321.15,1016.04 324.72,1014.39 328.28,1012.78 331.84,1011.21 335.41,1009.67 338.97,1008.17 342.53,1006.71 346.09,1005.28 349.66,1003.9 353.22,1002.56 356.78,1001.27 360.35,1000.01 363.91,998.8 367.47,997.63 371.03,996.5 374.6,995.41 378.16,994.37 381.72,993.36 385.29,992.4 388.85,991.47 392.41,990.58 395.97,989.73 399.54,988.92 403.1,988.14 406.66,987.4 410.23,986.69 413.79,986.01 417.35,985.37 420.91,984.75 424.48,984.17 428.04,983.61 431.6,983.08 435.17,982.57 438.73,982.09 442.29,981.64 445.85,981.2 449.42,980.79 452.98,980.4 456.54,980.03 460.11,979.68 463.67,979.35 467.23,979.04 470.79,978.74 474.36,978.46 477.92,978.19 481.48,977.94 485.05,977.7 488.61,977.47 492.17,977.26 495.73,977.05 499.3,976.86 502.86,976.68 506.42,976.51 509.99,976.35 513.55,976.19 517.11,976.05 520.67,975.91 524.24,975.79 527.8,975.66 531.36,975.55 534.93,975.44 538.49,975.34 542.05,975.24 545.61,975.15 549.18,975.06 552.74,974.98 556.3,974.91 559.87,974.83 563.43,974.77 566.99,974.7 570.55,974.64 574.12,974.58 577.68,974.53 581.24,974.48 584.81,974.43 588.37,974.39 591.93,974.34 595.49,974.3 599.06,974.26 602.62,974.23 606.18,974.19 609.75,974.16 613.31,974.13 616.87,974.1 620.43,974.08 624,974.05 627.56,974.03 631.12,974.01 634.69,973.99 638.25,973.97 641.81,973.95 645.37,973.93 648.94,973.91 652.5,973.9" fill="none" stroke="#1c1c1c" stroke-width="3.3" stroke-dasharray="5.8 2.9"/>
<rect x="138.7" y="1082" width="12.6" height="12.6" fill="#fff" stroke="#111" stroke-width="3.1"/>
<path d="M145 1004.27L155.3 1014.57L145 1024.87L134.7 1014.57Z" fill="#b4b4b4" stroke="#222" stroke-width="3.2"/>
<path d="M217.5 984.56L227.8 994.86L217.5 1005.16L207.2 994.86Z" fill="#b4b4b4" stroke="#222" stroke-width="3.2"/>
<path d="M217.5 1051.69L226.1 1068.49L208.9 1068.49Z" fill="#1c1c1c"/>
<rect x="283.7" y="1026.88" width="12.6" height="12.6" fill="#fff" stroke="#111" stroke-width="3.1"/>
<path d="M290 957.91L300.3 968.21L290 978.51L279.7 968.21Z" fill="#b4b4b4" stroke="#222" stroke-width="3.2"/>
<path d="M290 1051.69L298.6 1068.49L281.4 1068.49Z" fill="#1c1c1c"/>
<rect x="356.2" y="968.85" width="12.6" height="12.6" fill="#fff" stroke="#111" stroke-width="3.1"/>
<path d="M362.5 942.22L372.8 952.52L362.5 962.82L352.2 952.52Z" fill="#b4b4b4" stroke="#222" stroke-width="3.2"/>
<path d="M362.5 984.16L371.1 1000.97L353.9 1000.97Z" fill="#1c1c1c"/>
<rect x="430.7" y="1039.66" width="12.6" height="12.6" fill="#fff" stroke="#111" stroke-width="3.1"/>
<path d="M437 869.95L447.3 880.25L437 890.55L426.7 880.25Z" fill="#b4b4b4" stroke="#222" stroke-width="3.2"/>
<path d="M437 955.33L445.6 972.13L428.4 972.13Z" fill="#1c1c1c"/>
<rect x="502.2" y="956.08" width="12.6" height="12.6" fill="#fff" stroke="#111" stroke-width="3.1"/>
<path d="M508.5 939.63L517.1 956.43L499.9 956.43Z" fill="#1c1c1c"/>
<rect x="574.4" y="956.44" width="12.6" height="12.6" fill="#fff" stroke="#111" stroke-width="3.1"/>
<path d="M580.7 922.51L591 932.81L580.7 943.11L570.4 932.81Z" fill="#b4b4b4" stroke="#222" stroke-width="3.2"/>
<path d="M580.7 953.14L589.3 969.94L572.1 969.94Z" fill="#1c1c1c"/>
<rect x="646.2" y="957.9" width="12.6" height="12.6" fill="#fff" stroke="#111" stroke-width="3.1"/>
<path d="M652.5 886.01L662.8 896.31L652.5 906.61L642.2 896.31Z" fill="#b4b4b4" stroke="#222" stroke-width="3.2"/>
<path d="M652.5 938.54L661.1 955.34L643.9 955.34Z" fill="#1c1c1c"/>
<path d="M145.5 635.7H180.5" stroke="#1c1c1c" stroke-width="3.3"/>
<path d="M163 626.1L171.6 642.9L154.4 642.9Z" fill="#1c1c1c"/>
<text x="195.3" y="644.4" class="t">BI 1015550</text>
<path d="M145.5 666.5H180.5" stroke="#1c1c1c" stroke-width="3.5" stroke-dasharray="3 3.2"/>
<rect x="156.2" y="659.7" width="13.6" height="13.6" fill="#fff" stroke="#111" stroke-width="3"/>
<text x="195.3" y="672.9" class="t">BI 1015550 + nintedanib 30 nmol/L</text>
<path d="M145.5 693.2H180.5" stroke="#1c1c1c" stroke-width="3.3"/>
<path d="M163 682.9L173.3 693.2L163 703.5L152.7 693.2Z" fill="#b4b4b4" stroke="#222" stroke-width="3.2"/>
<text x="195.3" y="701" class="t">BI 1015550 + nintedanib 100 nmol/L</text>
<rect x="154.8" y="713.9" width="16.4" height="16.4" fill="#fff" stroke="#111" stroke-width="3.1"/>
<text x="195.3" y="729.2" class="t">Nintedanib</text>
<text transform="translate(21.5 915.1) rotate(-90)" text-anchor="middle" class="b yl">Inhibition of Col3A1 mRNA</text>
<text transform="translate(47.5 916.2) rotate(-90)" text-anchor="middle" class="b yl">expression (%)</text>
<text x="391.5" y="1200" text-anchor="middle" class="b">BI 1015550 (μmol/L)</text>
<text transform="translate(2.75 634.5) scale(0.9 1)" class="L">C</text>
<path d="M868.4 723.85V1123.75M866.75 1122.1H1447M860.1 725.6H868.4M860.1 778.56H868.4M860.1 831.52H868.4M860.1 884.48H868.4M860.1 937.44H868.4M860.1 990.4H868.4M860.1 1043.36H868.4M860.1 1096.32H868.4M984 1122.1V1131.1M1056.5 1122.1V1131.1M1129 1122.1V1131.1M1201.5 1122.1V1131.1M1274 1122.1V1131.1M1346.5 1122.1V1131.1M1419 1122.1V1131.1M868.4 990.4H1447" stroke="#000" stroke-width="3.3" fill="none"/>
<text x="855.5" y="733.7" text-anchor="end" class="t">100</text>
<text x="855.5" y="786.66" text-anchor="end" class="t">80</text>
<text x="855.5" y="839.62" text-anchor="end" class="t">60</text>
<text x="855.5" y="892.58" text-anchor="end" class="t">40</text>
<text x="855.5" y="945.54" text-anchor="end" class="t">20</text>
<text x="855.5" y="998.5" text-anchor="end" class="t">0</text>
<text x="855.5" y="1051.46" text-anchor="end" class="t">-20</text>
<text x="855.5" y="1104.42" text-anchor="end" class="t">-40</text>
<text x="984" y="1156" text-anchor="middle" class="t">0.03</text>
<text x="1056.5" y="1156" text-anchor="middle" class="t">0.1</text>
<text x="1129" y="1156" text-anchor="middle" class="t">0.3</text>
<text x="1201.5" y="1156" text-anchor="middle" class="t">1</text>
<text x="1274" y="1156" text-anchor="middle" class="t">3</text>
<text x="1346.5" y="1156" text-anchor="middle" class="t">10</text>
<text x="1419" y="1156" text-anchor="middle" class="t">30</text>
<rect x="890" y="929.7" width="45.5" height="175.8" fill="none" stroke="#000" stroke-width="3"/>
<path d="M911.5 948.83V1121.48M903.75 948.83H919.25M903.75 998.08H919.25M903.75 1021.65H919.25M903.75 1121.48H919.25" stroke="#000" stroke-width="3.2" fill="none"/>
<path d="M984 919.43V1113M976.25 919.43H991.75M976.25 1013.17H991.75M976.25 1024.56H991.75M976.25 1113H991.75" stroke="#000" stroke-width="3.2" fill="none"/>
<path d="M1056.5 936.38V1105.59M1048.75 936.38H1064.25M1048.75 1009.2H1064.25M1048.75 1105.59H1064.25" stroke="#000" stroke-width="3.2" fill="none"/>
<path d="M1129 834.7V936.38M1121.25 834.7H1136.75M1121.25 842.64H1136.75M1121.25 889.78H1136.75M1121.25 936.38H1136.75" stroke="#000" stroke-width="3.2" fill="none"/>
<path d="M1201.5 803.72V900.37M1193.75 803.72H1209.25M1193.75 835.23H1209.25M1193.75 881.04H1209.25M1193.75 900.37H1209.25" stroke="#000" stroke-width="3.2" fill="none"/>
<path d="M1274 785.44V903.02M1266.25 785.44H1281.75M1266.25 846.88H1281.75M1266.25 903.02H1281.75" stroke="#000" stroke-width="3.2" fill="none"/>
<path d="M1346.5 788.36V898.25M1338.75 788.36H1354.25M1338.75 799.48H1354.25M1338.75 872.3H1354.25M1338.75 898.25H1354.25" stroke="#000" stroke-width="3.2" fill="none"/>
<path d="M1419 787.03V846.61M1411.25 787.03H1426.75M1411.25 829.4H1426.75M1411.25 841.85H1426.75M1411.25 846.61H1426.75" stroke="#000" stroke-width="3.2" fill="none"/>
<polyline points="922.38,983.88 925.92,983.66 929.47,983.43 933.02,983.18 936.56,982.91 940.11,982.62 943.66,982.31 947.21,981.97 950.75,981.62 954.3,981.24 957.85,980.83 961.4,980.4 964.94,979.93 968.49,979.43 972.04,978.9 975.58,978.34 979.13,977.73 982.68,977.09 986.23,976.4 989.77,975.66 993.32,974.89 996.87,974.06 1000.42,973.17 1003.96,972.24 1007.51,971.24 1011.06,970.19 1014.61,969.07 1018.15,967.89 1021.7,966.64 1025.25,965.33 1028.79,963.93 1032.34,962.47 1035.89,960.93 1039.44,959.31 1042.98,957.61 1046.53,955.84 1050.08,953.98 1053.63,952.04 1057.17,950.01 1060.72,947.91 1064.27,945.72 1067.82,943.46 1071.36,941.12 1074.91,938.7 1078.46,936.22 1082,933.66 1085.55,931.04 1089.1,928.36 1092.65,925.63 1096.19,922.85 1099.74,920.03 1103.29,917.17 1106.84,914.28 1110.38,911.37 1113.93,908.45 1117.48,905.52 1121.03,902.59 1124.57,899.68 1128.12,896.78 1131.67,893.9 1135.21,891.05 1138.76,888.25 1142.31,885.49 1145.86,882.77 1149.4,880.12 1152.95,877.53 1156.5,875 1160.05,872.54 1163.59,870.15 1167.14,867.84 1170.69,865.61 1174.23,863.46 1177.78,861.39 1181.33,859.4 1184.88,857.5 1188.42,855.67 1191.97,853.92 1195.52,852.26 1199.07,850.67 1202.61,849.16 1206.16,847.73 1209.71,846.37 1213.26,845.08 1216.8,843.86 1220.35,842.71 1223.9,841.62 1227.44,840.59 1230.99,839.62 1234.54,838.7 1238.09,837.84 1241.63,837.03 1245.18,836.27 1248.73,835.56 1252.28,834.89 1255.82,834.26 1259.37,833.67 1262.92,833.12 1266.47,832.6 1270.01,832.12 1273.56,831.67 1277.11,831.24 1280.65,830.85 1284.2,830.48 1287.75,830.13 1291.3,829.81 1294.84,829.51 1298.39,829.23 1301.94,828.96 1305.49,828.72 1309.03,828.49 1312.58,828.28 1316.13,828.08 1319.67,827.89 1323.22,827.72 1326.77,827.56 1330.32,827.41 1333.86,827.27 1337.41,827.14 1340.96,827.02 1344.51,826.91 1348.05,826.8 1351.6,826.7 1355.15,826.61 1358.7,826.53 1362.24,826.45 1365.79,826.37 1369.34,826.31 1372.88,826.24 1376.43,826.18 1379.98,826.13 1383.53,826.08 1387.07,826.03 1390.62,825.98 1394.17,825.94 1397.72,825.9 1401.26,825.87 1404.81,825.83 1408.36,825.8 1411.91,825.77 1415.45,825.75 1419,825.72" fill="none" stroke="#1c1c1c" stroke-width="3.3"/>
<polyline points="984,1006.65 987.11,1005.58 990.21,1004.46 993.32,1003.29 996.43,1002.06 999.54,1000.77 1002.64,999.42 1005.75,998.02 1008.86,996.55 1011.96,995.01 1015.07,993.41 1018.18,991.74 1021.29,990.01 1024.39,988.21 1027.5,986.33 1030.61,984.39 1033.71,982.38 1036.82,980.3 1039.93,978.15 1043.04,975.93 1046.14,973.64 1049.25,971.29 1052.36,968.87 1055.46,966.38 1058.57,963.83 1061.68,961.23 1064.79,958.57 1067.89,955.85 1071,953.08 1074.11,950.27 1077.21,947.42 1080.32,944.53 1083.43,941.6 1086.54,938.65 1089.64,935.67 1092.75,932.67 1095.86,929.67 1098.96,926.65 1102.07,923.63 1105.18,920.61 1108.29,917.61 1111.39,914.62 1114.5,911.64 1117.61,908.69 1120.71,905.77 1123.82,902.89 1126.93,900.04 1130.04,897.24 1133.14,894.48 1136.25,891.78 1139.36,889.13 1142.46,886.53 1145.57,884 1148.68,881.52 1151.79,879.12 1154.89,876.77 1158,874.5 1161.11,872.29 1164.21,870.15 1167.32,868.09 1170.43,866.09 1173.54,864.16 1176.64,862.3 1179.75,860.51 1182.86,858.79 1185.96,857.14 1189.07,855.55 1192.18,854.03 1195.29,852.57 1198.39,851.17 1201.5,849.84 1204.61,848.56 1207.71,847.34 1210.82,846.18 1213.93,845.07 1217.04,844.01 1220.14,843.01 1223.25,842.05 1226.36,841.14 1229.46,840.27 1232.57,839.45 1235.68,838.67 1238.79,837.93 1241.89,837.22 1245,836.55 1248.11,835.92 1251.21,835.32 1254.32,834.75 1257.43,834.21 1260.54,833.7 1263.64,833.22 1266.75,832.76 1269.86,832.33 1272.96,831.92 1276.07,831.54 1279.18,831.17 1282.29,830.83 1285.39,830.5 1288.5,830.19 1291.61,829.9 1294.71,829.63 1297.82,829.37 1300.93,829.12 1304.04,828.89 1307.14,828.67 1310.25,828.47 1313.36,828.27 1316.46,828.09 1319.57,827.92 1322.68,827.76 1325.79,827.6 1328.89,827.46 1332,827.32 1335.11,827.19 1338.21,827.07 1341.32,826.96 1344.43,826.85 1347.54,826.75 1350.64,826.65 1353.75,826.56 1356.86,826.47 1359.96,826.39 1363.07,826.32 1366.18,826.25 1369.29,826.18 1372.39,826.12 1375.5,826.06 1378.61,826 1381.71,825.95 1384.82,825.9 1387.93,825.85 1391.04,825.81 1394.14,825.77 1397.25,825.73 1400.36,825.69 1403.46,825.65 1406.57,825.62 1409.68,825.59 1412.79,825.56 1415.89,825.53 1419,825.51" fill="none" stroke="#1c1c1c" stroke-width="3.3"/>
<polyline points="922.38,1081.3 925.92,1080.26 929.47,1079.17 933.02,1078.02 936.56,1076.82 940.11,1075.57 943.66,1074.25 947.21,1072.87 950.75,1071.43 954.3,1069.93 957.85,1068.36 961.4,1066.72 964.94,1065.01 968.49,1063.23 972.04,1061.37 975.58,1059.44 979.13,1057.43 982.68,1055.34 986.23,1053.18 989.77,1050.93 993.32,1048.6 996.87,1046.19 1000.42,1043.69 1003.96,1041.11 1007.51,1038.45 1011.06,1035.71 1014.61,1032.88 1018.15,1029.97 1021.7,1026.98 1025.25,1023.91 1028.79,1020.76 1032.34,1017.54 1035.89,1014.24 1039.44,1010.88 1042.98,1007.44 1046.53,1003.95 1050.08,1000.39 1053.63,996.78 1057.17,993.12 1060.72,989.41 1064.27,985.66 1067.82,981.87 1071.36,978.05 1074.91,974.21 1078.46,970.35 1082,966.47 1085.55,962.59 1089.1,958.7 1092.65,954.82 1096.19,950.95 1099.74,947.1 1103.29,943.26 1106.84,939.46 1110.38,935.69 1113.93,931.96 1117.48,928.27 1121.03,924.63 1124.57,921.05 1128.12,917.52 1131.67,914.06 1135.21,910.66 1138.76,907.33 1142.31,904.07 1145.86,900.88 1149.4,897.77 1152.95,894.74 1156.5,891.79 1160.05,888.92 1163.59,886.14 1167.14,883.43 1170.69,880.81 1174.23,878.27 1177.78,875.82 1181.33,873.45 1184.88,871.16 1188.42,868.95 1191.97,866.83 1195.52,864.78 1199.07,862.81 1202.61,860.91 1206.16,859.1 1209.71,857.35 1213.26,855.68 1216.8,854.07 1220.35,852.53 1223.9,851.06 1227.44,849.65 1230.99,848.31 1234.54,847.02 1238.09,845.79 1241.63,844.62 1245.18,843.5 1248.73,842.43 1252.28,841.41 1255.82,840.44 1259.37,839.52 1262.92,838.64 1266.47,837.8 1270.01,837 1273.56,836.25 1277.11,835.52 1280.65,834.84 1284.2,834.19 1287.75,833.57 1291.3,832.98 1294.84,832.42 1298.39,831.89 1301.94,831.38 1305.49,830.91 1309.03,830.45 1312.58,830.02 1316.13,829.61 1319.67,829.22 1323.22,828.86 1326.77,828.51 1330.32,828.18 1333.86,827.86 1337.41,827.57 1340.96,827.29 1344.51,827.02 1348.05,826.77 1351.6,826.53 1355.15,826.3 1358.7,826.08 1362.24,825.88 1365.79,825.69 1369.34,825.51 1372.88,825.33 1376.43,825.17 1379.98,825.01 1383.53,824.87 1387.07,824.73 1390.62,824.6 1394.17,824.47 1397.72,824.35 1401.26,824.24 1404.81,824.14 1408.36,824.04 1411.91,823.94 1415.45,823.85 1419,823.77" fill="none" stroke="#1c1c1c" stroke-width="3.3" stroke-dasharray="5.8 2.9"/>
<rect x="905.2" y="1061.69" width="12.6" height="12.6" fill="#fff" stroke="#111" stroke-width="3.1"/>
<path d="M911.5 974.8L921.8 985.1L911.5 995.4L901.2 985.1Z" fill="#b4b4b4" stroke="#222" stroke-width="3.2"/>
<rect x="977.7" y="1045" width="12.6" height="12.6" fill="#fff" stroke="#111" stroke-width="3.1"/>
<path d="M984 957.86L994.3 968.16L984 978.46L973.7 968.16Z" fill="#b4b4b4" stroke="#222" stroke-width="3.2"/>
<path d="M984 990.07L992.6 1006.87L975.4 1006.87Z" fill="#1c1c1c"/>
<rect x="1050.2" y="1034.94" width="12.6" height="12.6" fill="#fff" stroke="#111" stroke-width="3.1"/>
<path d="M1056.5 949.38L1066.8 959.68L1056.5 969.98L1046.2 959.68Z" fill="#b4b4b4" stroke="#222" stroke-width="3.2"/>
<path d="M1056.5 964.12L1065.1 980.92L1047.9 980.92Z" fill="#1c1c1c"/>
<rect x="1122.7" y="855.41" width="12.6" height="12.6" fill="#fff" stroke="#111" stroke-width="3.1"/>
<path d="M1129 890.86L1139.3 901.16L1129 911.46L1118.7 901.16Z" fill="#b4b4b4" stroke="#222" stroke-width="3.2"/>
<path d="M1129 867.47L1137.6 884.27L1120.4 884.27Z" fill="#1c1c1c"/>
<rect x="1195.2" y="864.41" width="12.6" height="12.6" fill="#fff" stroke="#111" stroke-width="3.1"/>
<path d="M1201.5 834.72L1211.8 845.02L1201.5 855.32L1191.2 845.02Z" fill="#b4b4b4" stroke="#222" stroke-width="3.2"/>
<path d="M1201.5 851.58L1210.1 868.38L1192.9 868.38Z" fill="#1c1c1c"/>
<rect x="1267.7" y="854.08" width="12.6" height="12.6" fill="#fff" stroke="#111" stroke-width="3.1"/>
<path d="M1274 802.68L1284.3 812.98L1274 823.28L1263.7 812.98Z" fill="#b4b4b4" stroke="#222" stroke-width="3.2"/>
<path d="M1274 824.83L1282.6 841.63L1265.4 841.63Z" fill="#1c1c1c"/>
<rect x="1340.2" y="822.84" width="12.6" height="12.6" fill="#fff" stroke="#111" stroke-width="3.1"/>
<path d="M1346.5 846.91L1356.8 857.21L1346.5 867.51L1336.2 857.21Z" fill="#b4b4b4" stroke="#222" stroke-width="3.2"/>
<path d="M1346.5 819.54L1355.1 836.34L1337.9 836.34Z" fill="#1c1c1c"/>
<rect x="1412.7" y="810.13" width="12.6" height="12.6" fill="#fff" stroke="#111" stroke-width="3.1"/>
<path d="M1419 796.86L1429.3 807.16L1419 817.46L1408.7 807.16Z" fill="#b4b4b4" stroke="#222" stroke-width="3.2"/>
<path d="M1419 806.83L1427.6 823.63L1410.4 823.63Z" fill="#1c1c1c"/>
<path d="M916.3 634.4H951.3" stroke="#1c1c1c" stroke-width="3.3"/>
<path d="M933.8 624.8L942.4 641.6L925.2 641.6Z" fill="#1c1c1c"/>
<text x="965.8" y="643.1" class="t">BI 1015550</text>
<path d="M916.3 665H951.3" stroke="#1c1c1c" stroke-width="3.5" stroke-dasharray="3 3.2"/>
<rect x="927" y="658.2" width="13.6" height="13.6" fill="#fff" stroke="#111" stroke-width="3"/>
<text x="965.8" y="671.3" class="t">BI 1015550 + nintedanib 30 nmol/L</text>
<path d="M916.3 692H951.3" stroke="#1c1c1c" stroke-width="3.3"/>
<path d="M933.8 681.7L944.1 692L933.8 702.3L923.5 692Z" fill="#b4b4b4" stroke="#222" stroke-width="3.2"/>
<text x="965.8" y="699" class="t">BI 1015550 + nintedanib 100 nmol/L</text>
<rect x="925.6" y="712.7" width="16.4" height="16.4" fill="#fff" stroke="#111" stroke-width="3.1"/>
<text x="965.8" y="726.7" class="t">Nintedanib</text>
<text transform="translate(787.5 919.3) rotate(-90)" text-anchor="middle" class="b yl">Inhibition of FN mRNA</text>
<text transform="translate(813.5 915.7) rotate(-90)" text-anchor="middle" class="b yl">expression (%)</text>
<text x="1158.75" y="1200" text-anchor="middle" class="b">BI 1015550 (μmol/L)</text>
<text transform="translate(754 634.8) scale(0.926 1)" class="L">D</text>
<path d="M101.4 1354.75V1754.85M99.75 1753.2H680M93.1 1356.4H101.4M93.1 1428.82H101.4M93.1 1501.24H101.4M93.1 1573.66H101.4M93.1 1646.08H101.4M93.1 1718.5H101.4M95.2 1392.61H101.4M95.2 1465.03H101.4M95.2 1537.45H101.4M95.2 1609.87H101.4M95.2 1682.29H101.4M170.3 1753.2V1762.2M237.3 1753.2V1762.2M307.5 1753.2V1762.2M376 1753.2V1762.2M443.3 1753.2V1762.2M514.9 1753.2V1762.2M582.7 1753.2V1762.2M654.3 1753.2V1762.2M101.4 1718.5H680" stroke="#000" stroke-width="3.3" fill="none"/>
<text x="88.5" y="1364.5" text-anchor="end" class="t">100</text>
<text x="88.5" y="1436.92" text-anchor="end" class="t">80</text>
<text x="88.5" y="1509.34" text-anchor="end" class="t">60</text>
<text x="88.5" y="1581.76" text-anchor="end" class="t">40</text>
<text x="88.5" y="1654.18" text-anchor="end" class="t">20</text>
<text x="88.5" y="1726.6" text-anchor="end" class="t">0</text>
<text x="237.3" y="1787.6" text-anchor="middle" class="t">0.03</text>
<text x="307.5" y="1787.6" text-anchor="middle" class="t">0.1</text>
<text x="376" y="1787.6" text-anchor="middle" class="t">0.3</text>
<text x="443.3" y="1787.6" text-anchor="middle" class="t">1</text>
<text x="514.9" y="1787.6" text-anchor="middle" class="t">3</text>
<text x="582.7" y="1787.6" text-anchor="middle" class="t">10</text>
<text x="654.3" y="1787.6" text-anchor="middle" class="t">30</text>
<rect x="149" y="1607.7" width="43.4" height="110.8" fill="none" stroke="#000" stroke-width="3"/>
<path d="M170.25 1616.75V1713.79M162.5 1616.75H178M162.5 1713.79H178" stroke="#000" stroke-width="3.2" fill="none"/>
<path d="M237.5 1557.73V1619.28M229.75 1557.73H245.25M229.75 1619.28H245.25M237.5 1654.05V1683.74M229.75 1654.05H245.25M229.75 1683.74H245.25M237.5 1704.38V1739.14M229.75 1704.38H245.25M229.75 1739.14H245.25" stroke="#000" stroke-width="3.2" fill="none"/>
<path d="M306.83 1493.27V1663.82M299.08 1493.27H314.58M299.08 1565.33H314.58M299.08 1579.45H314.58M299.08 1602.27H314.58M299.08 1616.39H314.58M299.08 1663.82H314.58" stroke="#000" stroke-width="3.2" fill="none"/>
<path d="M376.16 1478.43V1601.18M368.41 1478.43H383.91M368.41 1524.05H383.91M368.41 1553.38H383.91M368.41 1563.52H383.91M368.41 1601.18H383.91" stroke="#000" stroke-width="3.2" fill="none"/>
<path d="M445.49 1441.13V1559.54M437.74 1441.13H453.24M437.74 1444.03H453.24M437.74 1486.39H453.24M437.74 1559.54H453.24" stroke="#000" stroke-width="3.2" fill="none"/>
<path d="M514.82 1433.89V1542.88M507.07 1433.89H522.57M507.07 1461.77H522.57M507.07 1480.24H522.57M507.07 1542.88H522.57" stroke="#000" stroke-width="3.2" fill="none"/>
<path d="M584.15 1425.92V1524.41M576.4 1425.92H591.9M576.4 1436.42H591.9M576.4 1500.52H591.9M576.4 1524.41H591.9" stroke="#000" stroke-width="3.2" fill="none"/>
<path d="M653.48 1408.18V1477.34M645.73 1408.18H661.23M645.73 1431.72H661.23M645.73 1459.6H661.23M645.73 1477.34H661.23" stroke="#000" stroke-width="3.2" fill="none"/>
<polyline points="170.25,1662.93 173.68,1660.34 177.1,1657.67 180.53,1654.91 183.96,1652.07 187.38,1649.14 190.81,1646.14 194.24,1643.06 197.66,1639.9 201.09,1636.67 204.52,1633.38 207.95,1630.01 211.37,1626.59 214.8,1623.11 218.23,1619.58 221.65,1616.01 225.08,1612.39 228.51,1608.75 231.93,1605.07 235.36,1601.37 238.79,1597.66 242.21,1593.94 245.64,1590.22 249.07,1586.51 252.5,1582.81 255.92,1579.12 259.35,1575.46 262.78,1571.83 266.2,1568.24 269.63,1564.69 273.06,1561.19 276.48,1557.75 279.91,1554.36 283.34,1551.04 286.76,1547.78 290.19,1544.59 293.62,1541.48 297.04,1538.45 300.47,1535.49 303.9,1532.61 307.33,1529.82 310.75,1527.12 314.18,1524.49 317.61,1521.96 321.03,1519.51 324.46,1517.14 327.89,1514.86 331.31,1512.67 334.74,1510.56 338.17,1508.53 341.59,1506.58 345.02,1504.71 348.45,1502.93 351.87,1501.21 355.3,1499.58 358.73,1498.01 362.16,1496.52 365.58,1495.09 369.01,1493.73 372.44,1492.43 375.86,1491.2 379.29,1490.02 382.72,1488.9 386.14,1487.84 389.57,1486.83 393,1485.87 396.42,1484.96 399.85,1484.1 403.28,1483.28 406.7,1482.5 410.13,1481.76 413.56,1481.06 416.99,1480.4 420.41,1479.77 423.84,1479.18 427.27,1478.62 430.69,1478.09 434.12,1477.59 437.55,1477.11 440.97,1476.66 444.4,1476.24 447.83,1475.84 451.25,1475.46 454.68,1475.1 458.11,1474.76 461.53,1474.44 464.96,1474.14 468.39,1473.86 471.82,1473.59 475.24,1473.34 478.67,1473.1 482.1,1472.87 485.52,1472.66 488.95,1472.46 492.38,1472.27 495.8,1472.09 499.23,1471.92 502.66,1471.76 506.08,1471.61 509.51,1471.47 512.94,1471.34 516.37,1471.21 519.79,1471.1 523.22,1470.98 526.65,1470.88 530.07,1470.78 533.5,1470.69 536.93,1470.6 540.35,1470.51 543.78,1470.44 547.21,1470.36 550.63,1470.29 554.06,1470.23 557.49,1470.17 560.91,1470.11 564.34,1470.05 567.77,1470 571.2,1469.95 574.62,1469.91 578.05,1469.86 581.48,1469.82 584.9,1469.79 588.33,1469.75 591.76,1469.72 595.18,1469.68 598.61,1469.65 602.04,1469.63 605.46,1469.6 608.89,1469.57 612.32,1469.55 615.74,1469.53 619.17,1469.51 622.6,1469.49 626.03,1469.47 629.45,1469.45 632.88,1469.43 636.31,1469.42 639.73,1469.4 643.16,1469.39 646.59,1469.38 650.01,1469.36" fill="none" stroke="#1c1c1c" stroke-width="3.3"/>
<polyline points="237.5,1712.17 240.47,1710.59 243.44,1708.94 246.41,1707.24 249.39,1705.46 252.36,1703.63 255.33,1701.72 258.3,1699.75 261.27,1697.71 264.24,1695.59 267.21,1693.41 270.18,1691.16 273.16,1688.83 276.13,1686.44 279.1,1683.97 282.07,1681.43 285.04,1678.82 288.01,1676.14 290.98,1673.39 293.95,1670.57 296.93,1667.68 299.9,1664.73 302.87,1661.71 305.84,1658.63 308.81,1655.5 311.78,1652.3 314.75,1649.05 317.72,1645.75 320.7,1642.41 323.67,1639.02 326.64,1635.58 329.61,1632.12 332.58,1628.62 335.55,1625.09 338.52,1621.54 341.5,1617.97 344.47,1614.38 347.44,1610.79 350.41,1607.19 353.38,1603.59 356.35,1599.99 359.32,1596.41 362.29,1592.84 365.27,1589.28 368.24,1585.75 371.21,1582.25 374.18,1578.79 377.15,1575.35 380.12,1571.96 383.09,1568.61 386.06,1565.31 389.04,1562.06 392.01,1558.87 394.98,1555.73 397.95,1552.65 400.92,1549.63 403.89,1546.68 406.86,1543.79 409.83,1540.97 412.81,1538.22 415.78,1535.54 418.75,1532.92 421.72,1530.38 424.69,1527.91 427.66,1525.52 430.63,1523.19 433.6,1520.93 436.58,1518.75 439.55,1516.64 442.52,1514.59 445.49,1512.62 448.46,1510.71 451.43,1508.87 454.4,1507.1 457.38,1505.39 460.35,1503.75 463.32,1502.16 466.29,1500.64 469.26,1499.18 472.23,1497.77 475.2,1496.42 478.17,1495.13 481.15,1493.88 484.12,1492.69 487.09,1491.55 490.06,1490.46 493.03,1489.41 496,1488.41 498.97,1487.45 501.94,1486.53 504.92,1485.65 507.89,1484.81 510.86,1484.01 513.83,1483.25 516.8,1482.52 519.77,1481.82 522.74,1481.15 525.71,1480.52 528.69,1479.91 531.66,1479.33 534.63,1478.78 537.6,1478.25 540.57,1477.75 543.54,1477.27 546.51,1476.82 549.49,1476.39 552.46,1475.97 555.43,1475.58 558.4,1475.2 561.37,1474.85 564.34,1474.51 567.31,1474.18 570.28,1473.88 573.26,1473.58 576.23,1473.3 579.2,1473.04 582.17,1472.79 585.14,1472.55 588.11,1472.32 591.08,1472.1 594.05,1471.89 597.03,1471.7 600,1471.51 602.97,1471.33 605.94,1471.16 608.91,1471 611.88,1470.85 614.85,1470.71 617.82,1470.57 620.8,1470.44 623.77,1470.31 626.74,1470.19 629.71,1470.08 632.68,1469.98 635.65,1469.87 638.62,1469.78 641.59,1469.69 644.57,1469.6 647.54,1469.51 650.51,1469.44 653.48,1469.36" fill="none" stroke="#1c1c1c" stroke-width="3.3"/>
<polyline points="238.89,1652.96 241.85,1651.69 244.81,1650.37 247.77,1649 250.73,1647.59 253.69,1646.12 256.65,1644.61 259.62,1643.04 262.58,1641.42 265.54,1639.75 268.5,1638.02 271.46,1636.25 274.42,1634.42 277.38,1632.53 280.35,1630.59 283.31,1628.6 286.27,1626.56 289.23,1624.46 292.19,1622.31 295.15,1620.11 298.11,1617.86 301.08,1615.55 304.04,1613.2 307,1610.8 309.96,1608.36 312.92,1605.87 315.88,1603.34 318.84,1600.77 321.81,1598.16 324.77,1595.52 327.73,1592.84 330.69,1590.13 333.65,1587.4 336.61,1584.64 339.57,1581.86 342.53,1579.06 345.5,1576.24 348.46,1573.41 351.42,1570.57 354.38,1567.73 357.34,1564.89 360.3,1562.04 363.26,1559.2 366.23,1556.37 369.19,1553.55 372.15,1550.75 375.11,1547.96 378.07,1545.2 381.03,1542.45 383.99,1539.74 386.96,1537.06 389.92,1534.4 392.88,1531.79 395.84,1529.21 398.8,1526.67 401.76,1524.17 404.72,1521.72 407.69,1519.31 410.65,1516.95 413.61,1514.63 416.57,1512.37 419.53,1510.16 422.49,1507.99 425.45,1505.88 428.42,1503.83 431.38,1501.82 434.34,1499.87 437.3,1497.98 440.26,1496.14 443.22,1494.35 446.18,1492.61 449.14,1490.93 452.11,1489.3 455.07,1487.72 458.03,1486.19 460.99,1484.71 463.95,1483.29 466.91,1481.91 469.87,1480.58 472.84,1479.3 475.8,1478.06 478.76,1476.87 481.72,1475.72 484.68,1474.61 487.64,1473.55 490.6,1472.53 493.57,1471.54 496.53,1470.6 499.49,1469.69 502.45,1468.82 505.41,1467.98 508.37,1467.18 511.33,1466.41 514.3,1465.67 517.26,1464.97 520.22,1464.29 523.18,1463.64 526.14,1463.02 529.1,1462.42 532.06,1461.85 535.02,1461.31 537.99,1460.78 540.95,1460.28 543.91,1459.81 546.87,1459.35 549.83,1458.91 552.79,1458.5 555.75,1458.1 558.72,1457.72 561.68,1457.35 564.64,1457 567.6,1456.67 570.56,1456.36 573.52,1456.05 576.48,1455.76 579.45,1455.49 582.41,1455.22 585.37,1454.97 588.33,1454.73 591.29,1454.5 594.25,1454.29 597.21,1454.08 600.18,1453.88 603.14,1453.69 606.1,1453.51 609.06,1453.34 612.02,1453.17 614.98,1453.01 617.94,1452.86 620.9,1452.72 623.87,1452.59 626.83,1452.46 629.79,1452.33 632.75,1452.22 635.71,1452.1 638.67,1452 641.63,1451.89 644.6,1451.8 647.56,1451.71 650.52,1451.62 653.48,1451.53" fill="none" stroke="#676767" stroke-width="3.3" stroke-dasharray="5.8 2.9"/>
<path d="M170.25 1654.97L180.55 1665.27L170.25 1675.57L159.95 1665.27Z" fill="#b4b4b4" stroke="#222" stroke-width="3.2"/>
<path d="M237.5 1574.95L247.8 1585.25L237.5 1595.55L227.2 1585.25Z" fill="#b4b4b4" stroke="#222" stroke-width="3.2"/>
<rect x="229.5" y="1660.17" width="16" height="16" fill="#555"/>
<path d="M237.5 1712.88L246.1 1729.68L228.9 1729.68Z" fill="#1c1c1c"/>
<path d="M306.83 1523.53L317.13 1533.83L306.83 1544.13L296.53 1533.83Z" fill="#b4b4b4" stroke="#222" stroke-width="3.2"/>
<rect x="298.83" y="1583.77" width="16" height="16" fill="#555"/>
<path d="M306.83 1622.72L315.43 1639.52L298.23 1639.52Z" fill="#1c1c1c"/>
<path d="M376.16 1496.01L386.46 1506.31L376.16 1516.61L365.86 1506.31Z" fill="#b4b4b4" stroke="#222" stroke-width="3.2"/>
<rect x="368.16" y="1533.8" width="16" height="16" fill="#555"/>
<path d="M376.16 1569.85L384.76 1586.65L367.56 1586.65Z" fill="#1c1c1c"/>
<path d="M445.49 1453.64L455.79 1463.94L445.49 1474.24L435.19 1463.94Z" fill="#b4b4b4" stroke="#222" stroke-width="3.2"/>
<rect x="437.49" y="1496.14" width="16" height="16" fill="#555"/>
<path d="M445.49 1522.42L454.09 1539.22L436.89 1539.22Z" fill="#1c1c1c"/>
<path d="M514.82 1481.53L525.12 1491.83L514.82 1502.13L504.52 1491.83Z" fill="#b4b4b4" stroke="#222" stroke-width="3.2"/>
<rect x="506.82" y="1483.83" width="16" height="16" fill="#555"/>
<path d="M514.82 1504.68L523.42 1521.48L506.22 1521.48Z" fill="#1c1c1c"/>
<path d="M584.15 1473.2L594.45 1483.5L584.15 1493.8L573.85 1483.5Z" fill="#b4b4b4" stroke="#222" stroke-width="3.2"/>
<rect x="576.15" y="1442.55" width="16" height="16" fill="#555"/>
<path d="M584.15 1462.67L592.75 1479.47L575.55 1479.47Z" fill="#1c1c1c"/>
<path d="M653.48 1440.25L663.78 1450.55L653.48 1460.85L643.18 1450.55Z" fill="#b4b4b4" stroke="#222" stroke-width="3.2"/>
<rect x="645.48" y="1411.04" width="16" height="16" fill="#555"/>
<path d="M653.48 1430.45L662.08 1447.25L644.88 1447.25Z" fill="#1c1c1c"/>
<path d="M148.5 1270.3H183.5" stroke="#1c1c1c" stroke-width="3.3"/>
<path d="M166 1260.7L174.6 1277.5L157.4 1277.5Z" fill="#1c1c1c"/>
<text x="198.6" y="1279" class="t">BI 1015550</text>
<path d="M148.5 1298.9H183.5" stroke="#1c1c1c" stroke-width="3.3"/>
<path d="M166 1288.6L176.3 1298.9L166 1309.2L155.7 1298.9Z" fill="#b4b4b4" stroke="#222" stroke-width="3.2"/>
<text x="198.6" y="1307" class="t">BI 1015550 + nintedanib 100 nmol/L</text>
<path d="M148.5 1327.4H183.5" stroke="#676767" stroke-width="3.5" stroke-dasharray="3 3.2"/>
<rect x="158" y="1319.4" width="16" height="16" fill="#555"/>
<text x="198.6" y="1334.9" class="t">Calculated additive curve</text>
<rect x="157.8" y="1348.6" width="16.4" height="16.4" fill="#fff" stroke="#111" stroke-width="3.1"/>
<text x="198.6" y="1363" class="t">Nintedanib 100 nmol/L</text>
<text transform="translate(21.5 1547) rotate(-90)" text-anchor="middle" class="b yl">Inhibition of proliferation (%)</text>
<text x="391.5" y="1832" text-anchor="middle" class="b">BI 1015550 (μmol/L)</text>
<text transform="translate(3.9 1273.3) scale(0.9 1)" class="L">E</text>
</svg></body></html>
